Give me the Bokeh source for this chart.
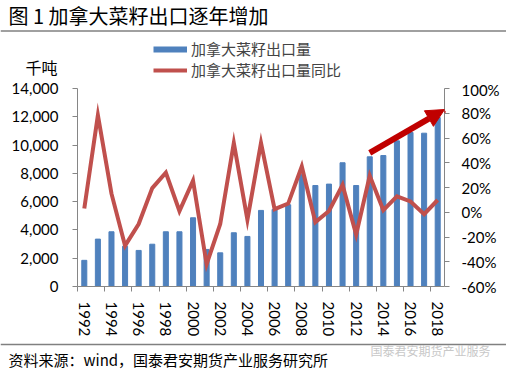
from bokeh.plotting import figure
from bokeh.layouts import column
from bokeh.models import (Range1d, LinearAxis, FixedTicker, NumeralTickFormatter, Legend,
                          LegendItem, Label, Span, Arrow, NormalHead, ColumnDataSource)
from bokeh.embed import file_html
from bokeh.resources import INLINE

# ---- data ----
years = list(range(1992, 2019))
exports = [1850, 3350, 3870, 2850, 2550, 2990, 3870, 3870, 4860, 2620, 2380, 3800, 3540,
           5380, 5450, 5780, 7940, 7140, 7240, 8750, 7140, 9170, 9260, 10300, 10890, 10840, 11950]
yoy_pct = [3, 78.5, 15, -27, -9.5, 19.5, 32, 1, 25.5, -42, -9.5, 56, -6, 56, 2.5, 7, 37, -8,
           1, 22, -18, 29.5, 1.7, 12.8, 8.7, -1.5, 9.9]
left_ticks = [0, 2000, 4000, 6000, 8000, 10000, 12000, 14000]
right_ticks = [-0.6, -0.4, -0.2, 0.0, 0.2, 0.4, 0.6, 0.8, 1.0]
label_years = years[::2]
bar_name = "加拿大菜籽出口量"
line_name = "加拿大菜籽出口量同比"
title_text = "图 1 加拿大菜籽出口逐年增加"
unit_text = "千吨"
source_text = "资料来源：wind，国泰君安期货产业服务研究所"
watermark_text = "国泰君安期货产业服务"
arrow_from = (2013, 0.48)
arrow_to = (2018.5, 0.83)

BLUE = "#4F81BD"
RED = "#C0504D"
DARKRED = "#C00000"
AXIS = "#868686"
RULE = "#808080"
NUM_FONT = "Lato"
CJK = "Noto Sans CJK SC"
W = 506
TOP_H = 80


def blank(height):
    f = figure(width=W, height=height, x_range=Range1d(0, W), y_range=Range1d(height, 0),
               x_axis_type=None, y_axis_type=None, output_backend="svg", toolbar_location=None,
               min_border=0, min_border_left=0, min_border_right=0, min_border_top=0,
               min_border_bottom=0, frame_align=False)
    f.xgrid.visible = False
    f.ygrid.visible = False
    f.outline_line_color = None
    f.background_fill_color = "white"
    f.border_fill_color = "white"
    return f


# ---- header: title, rule, unit, legend ----
top = blank(TOP_H)
top.add_layout(Label(x=8, y=15, text=title_text, text_font=CJK, text_font_size="20px",
                     text_baseline="middle", text_color="black"))
top.add_layout(Span(location=30.5, dimension="width", line_color=RULE, line_width=1.5))
top.add_layout(Label(x=25, y=66, text=unit_text, text_font=CJK, text_font_size="16px",
                     text_baseline="middle", text_color="black"))
# legend-only renderers (single off-screen point, draws nothing in the header)
leg_bar = top.line(x=[-50], y=[-50], line_color=BLUE, line_width=6)
leg_line = top.line(x=[-50], y=[-50], line_color=RED, line_width=4)
legend = Legend(items=[LegendItem(label=bar_name, renderers=[leg_bar]),
                       LegendItem(label=line_name, renderers=[leg_line])],
                location=(153, 0), orientation="vertical", glyph_width=34, glyph_height=18,
                label_height=18, label_standoff=4, padding=0, margin=0, spacing=0,
                border_line_color=None, background_fill_alpha=0,
                label_text_font=CJK, label_text_font_size="15px")
top.add_layout(legend)

# ---- main chart ----
src = ColumnDataSource(dict(year=years, exports=exports, yoy=[v / 100 for v in yoy_pct]))

p = figure(width=W, height=342 - TOP_H, x_range=Range1d(1991.5, 2018.5),
           y_range=Range1d(0, 14000), output_backend="svg", toolbar_location=None,
           frame_align=False, min_border_left=77, min_border_right=62,
           min_border_top=88 - TOP_H, min_border_bottom=56)
p.extra_y_ranges = {"pct": Range1d(-0.6, 1.0)}
p.xgrid.visible = False
p.ygrid.visible = False
p.outline_line_color = None
p.background_fill_color = "white"
p.border_fill_color = "white"

p.vbar(x="year", top="exports", width=0.37, color=BLUE, source=src)
p.line(x="year", y="yoy", y_range_name="pct", line_color=RED, line_width=4,
       line_join="miter", source=src)

xa = p.xaxis[0]
xa.ticker = FixedTicker(ticks=label_years, minor_ticks=[y - 0.5 for y in label_years])
xa.major_label_orientation = "vertical"
xa.major_tick_out = 0
xa.major_tick_in = 0
xa.minor_tick_out = 5
xa.minor_tick_in = 0
xa.major_label_standoff = 10

ya = p.yaxis[0]
ya.ticker = FixedTicker(ticks=left_ticks)
ya.formatter = NumeralTickFormatter(format="0,0")
ya.major_tick_out = 5
ya.major_tick_in = 0
ya.minor_tick_out = 0
ya.minor_tick_in = 0
ya.major_label_standoff = 14

ra = LinearAxis(y_range_name="pct", ticker=FixedTicker(ticks=right_ticks),
                formatter=NumeralTickFormatter(format="0%"))
ra.major_tick_out = 5
ra.major_tick_in = 0
ra.minor_tick_out = 0
ra.minor_tick_in = 0
ra.major_label_standoff = 12
p.add_layout(ra, "right")

for ax in (xa, ya, ra):
    ax.axis_line_color = AXIS
    ax.major_tick_line_color = AXIS
    ax.minor_tick_line_color = AXIS
    ax.major_label_text_font = NUM_FONT
    ax.major_label_text_font_size = "15px"
    ax.major_label_text_color = "black"

p.add_layout(Arrow(end=NormalHead(size=18, fill_color=DARKRED, line_color=DARKRED),
                   x_start=arrow_from[0], y_start=arrow_from[1],
                   x_end=arrow_to[0], y_end=arrow_to[1], y_range_name="pct",
                   line_color=DARKRED, line_width=6))

# ---- footer ----
bot = blank(30)
bot.add_layout(Span(location=2, dimension="width", line_color=RULE, line_width=1.5))
bot.add_layout(Label(x=8, y=17, text=source_text, text_font=CJK, text_font_size="15px",
                     text_baseline="middle", text_color="black"))
bot.add_layout(Label(x=370, y=8, text=watermark_text, text_font=CJK, text_font_size="12px",
                     text_baseline="middle", text_color="#C8C8C8"))

layout = column(top, p, bot, spacing=0)
open("out.html", "w").write(file_html(layout, INLINE))
